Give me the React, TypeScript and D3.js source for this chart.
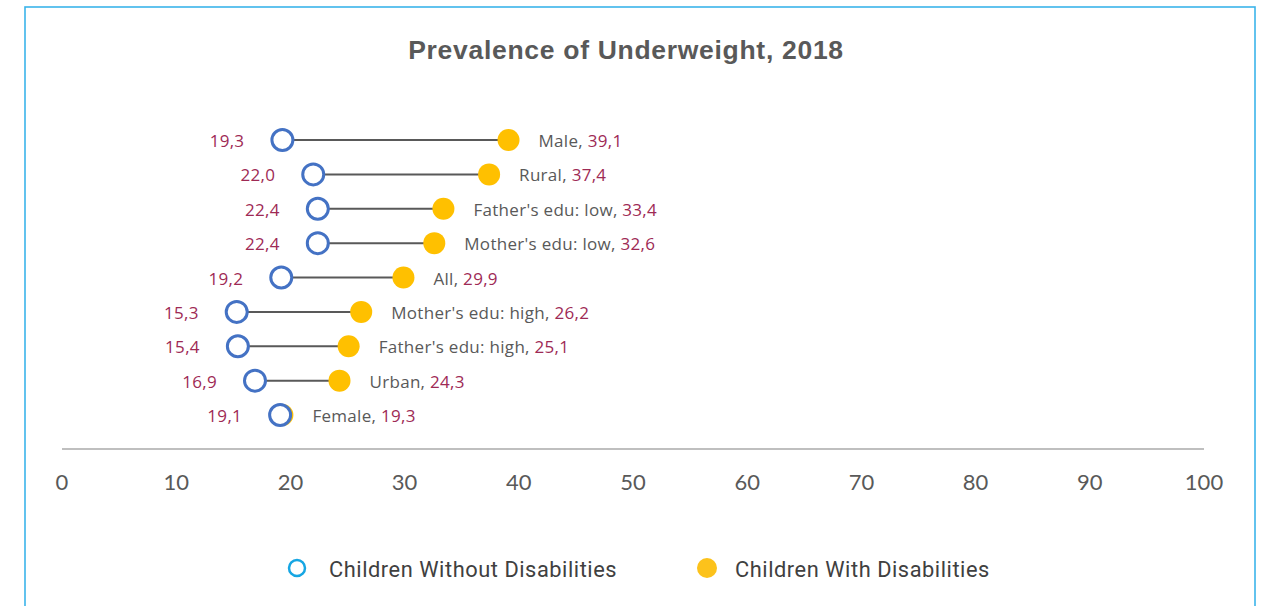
import React from "react";
import * as d3 from "d3";

const categories = [
  "Male",
  "Rural",
  "Father's edu: low",
  "Mother's edu: low",
  "All",
  "Mother's edu: high",
  "Father's edu: high",
  "Urban",
  "Female",
];
const withoutDisabilities = [19.3, 22.0, 22.4, 22.4, 19.2, 15.3, 15.4, 16.9, 19.1];
const withDisabilities = [39.1, 37.4, 33.4, 32.6, 29.9, 26.2, 25.1, 24.3, 19.3];
const xTicks = [0, 10, 20, 30, 40, 50, 60, 70, 80, 90, 100];
const title = "Prevalence of Underweight, 2018";
const legendLabels = ["Children Without Disabilities", "Children With Disabilities"];

const W = 1272;
const H = 606;
const fmt = (v: number) => v.toFixed(1).replace(".", ",");

export default function App() {
  const x = d3.scaleLinear().domain([0, 100]).range([62, 1204]);
  const y = d3.scalePoint<string>().domain(categories).range([140, 415]);
  const labelFont = "'Open Sans', Lato, sans-serif";
  const red = "#9e2a55";
  const gray = "#595959";
  const blue = "#4472c4";
  const yellow = "#ffc000";

  return (
    <div style={{ position: "fixed", left: 0, top: 0, width: W, height: H, background: "#fff" }}>
      <svg width={W} height={H} style={{ display: "block" }}>
        <rect x={25} y={7} width={1230} height={640} fill="#fff" stroke="#3bb4ea" strokeWidth={1.6} />
        <text
          x={626}
          y={59}
          textAnchor="middle"
          fontFamily="'Liberation Sans', Arial, sans-serif"
          fontWeight="bold"
          fontSize={26.5}
          letterSpacing={0.7}
          fill={gray}
        >
          {title}
        </text>

        <line x1={x(0)} x2={x(100)} y1={449} y2={449} stroke="#bfbfbf" strokeWidth={2} />
        {xTicks.map((t) => (
          <text
            key={t}
            x={x(t)}
            y={490}
            textAnchor="middle"
            fontFamily="Lato, sans-serif"
            fontSize={22}
            fill={gray}
          >
            {t}
          </text>
        ))}

        {categories.map((c, i) => {
          const cy = y(c) as number;
          const a = x(withoutDisabilities[i]);
          const b = x(withDisabilities[i]);
          return (
            <g key={c}>
              <line x1={a} x2={b} y1={cy} y2={cy} stroke={gray} strokeWidth={2} />
              <circle cx={b} cy={cy} r={11} fill={yellow} />
              <circle cx={a} cy={cy} r={10.5} fill="#fff" stroke={blue} strokeWidth={3} />
              <text
                x={a - 38}
                y={cy + 7}
                textAnchor="end"
                fontFamily={labelFont}
                fontSize={17}
                letterSpacing={0.3}
                fill={red}
              >
                {fmt(withoutDisabilities[i])}
              </text>
              <text
                x={Math.max(a, b) + 30}
                y={cy + 7}
                textAnchor="start"
                fontFamily={labelFont}
                fontSize={17}
                letterSpacing={0.3}
                fill={gray}
              >
                {c + ", "}
                <tspan fill={red}>{fmt(withDisabilities[i])}</tspan>
              </text>
            </g>
          );
        })}

        <circle cx={297} cy={568} r={8} fill="#fff" stroke="#16a6e3" strokeWidth={2.5} />
        <text x={329} y={577} fontFamily="Roboto, sans-serif" fontSize={21.8} letterSpacing={0.55} fill="#404040">
          {legendLabels[0]}
        </text>
        <circle cx={707} cy={568} r={10} fill="#fcc21b" />
        <text x={735} y={577} fontFamily="Roboto, sans-serif" fontSize={21.8} letterSpacing={0.55} fill="#404040">
          {legendLabels[1]}
        </text>
      </svg>
    </div>
  );
}
